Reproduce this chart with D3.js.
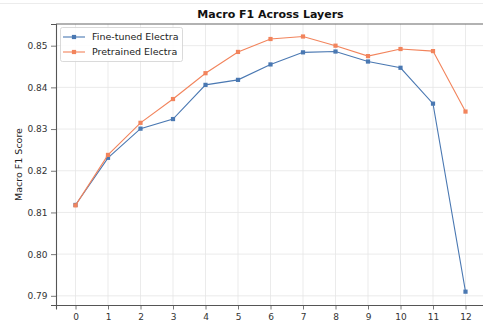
<!DOCTYPE html>
<html>
<head>
<meta charset="utf-8">
<script src="https://cdn.jsdelivr.net/npm/d3@7"></script>
<style>
  html, body { margin: 0; padding: 0; background: #fff; }
  svg { display: block; font-family: "DejaVu Sans", sans-serif; }
</style>
</head>
<body>
<svg id="chart" width="483" height="325"></svg>
<script>
// Layer indices and per-layer macro F1 for the two probed models
const layers = [0, 1, 2, 3, 4, 5, 6, 7, 8, 9, 10, 11, 12];
const fineTuned = [0.8118, 0.8231, 0.8301, 0.8324, 0.8406, 0.8418, 0.8455, 0.8484, 0.8486, 0.8462, 0.8447, 0.8361, 0.7910];
const pretrained = [0.8117, 0.8238, 0.8315, 0.8372, 0.8434, 0.8485, 0.8516, 0.8522, 0.8500, 0.8475, 0.8492, 0.8487, 0.8342];
const seriesNames = ["Fine-tuned Electra", "Pretrained Electra"];
const yTicks = [0.79, 0.80, 0.81, 0.82, 0.83, 0.84, 0.85];

const colors = ["#4a78b2", "#f2845c"];
const series = [fineTuned, pretrained];

const svg = d3.select("#chart");
const plotLeft = 56, plotTop = 24, plotRight = 485, plotBottom = 305;

const x = d3.scaleLinear().domain([-0.6, 12.6]).range([plotLeft, plotRight]);
const y = d3.scaleLinear().domain([0.7878, 0.8552]).range([plotBottom, plotTop]);

// faint frame line along the top of the figure
svg.append("line").attr("x1", 0).attr("x2", 483).attr("y1", 3.5).attr("y2", 3.5)
  .attr("stroke", "#ececec").attr("stroke-width", 1);

// grid
const grid = svg.append("g");
grid.selectAll("line.gx").data(layers).join("line")
  .attr("x1", d => x(d)).attr("x2", d => x(d))
  .attr("y1", plotTop).attr("y2", plotBottom)
  .attr("stroke", "#e6e6e6").attr("stroke-width", 0.8);
grid.selectAll("line.gy").data(yTicks).join("line")
  .attr("x1", plotLeft).attr("x2", plotRight)
  .attr("y1", d => y(d)).attr("y2", d => y(d))
  .attr("stroke", "#e6e6e6").attr("stroke-width", 0.8);

// axes
const xAxis = d3.axisBottom(x).tickValues(layers).tickFormat(d3.format("d")).tickSizeOuter(0).tickSize(4.5).tickPadding(4);
const yAxis = d3.axisLeft(y).tickValues(yTicks).tickFormat(d3.format(".2f")).tickSizeOuter(0).tickSize(5).tickPadding(3.5);

const gx = svg.append("g").attr("transform", `translate(0,${plotBottom})`).call(xAxis);
const gy = svg.append("g").attr("transform", `translate(${plotLeft},0)`).call(yAxis);
[gx, gy].forEach(g => {
  g.select(".domain").attr("stroke", "#555").attr("stroke-width", 1.1);
  g.selectAll(".tick line").attr("stroke", "#555").attr("stroke-width", 0.8);
  g.selectAll(".tick text").attr("fill", "#333").style("font-size", "9px")
    .style("font-family", "DejaVu Sans, sans-serif");
});

// top spine
svg.append("line").attr("x1", plotLeft).attr("x2", plotRight).attr("y1", plotTop).attr("y2", plotTop)
  .attr("stroke", "#666").attr("stroke-width", 1.1);

// lines and markers
const line = d3.line().x((d, i) => x(layers[i])).y(d => y(d));
series.forEach((vals, k) => {
  svg.append("path").datum(vals)
    .attr("d", line).attr("fill", "none")
    .attr("stroke", colors[k]).attr("stroke-width", 1.1);
  svg.append("g").selectAll("rect").data(vals).join("rect")
    .attr("x", (d, i) => x(layers[i]) - 2.1).attr("y", d => y(d) - 2.1)
    .attr("width", 4.2).attr("height", 4.2)
    .attr("fill", colors[k]);
});

// title
svg.append("text").attr("x", (plotLeft + plotRight) / 2).attr("y", 18)
  .attr("text-anchor", "middle").attr("font-weight", "bold")
  .style("font-size", "11px").attr("fill", "#111")
  .text("Macro F1 Across Layers");

// y label
svg.append("text")
  .attr("transform", `translate(22,${(plotTop + plotBottom) / 2}) rotate(-90)`)
  .attr("text-anchor", "middle").style("font-size", "9.5px").attr("fill", "#222")
  .text("Macro F1 Score");

// legend
const lg = svg.append("g");
lg.append("rect").attr("x", 60.5).attr("y", 27.5).attr("width", 122).attr("height", 34)
  .attr("rx", 2).attr("fill", "#fff").attr("fill-opacity", 0.85)
  .attr("stroke", "#d0d0d0").attr("stroke-width", 0.8);
seriesNames.forEach((name, k) => {
  const yy = 37 + k * 15;
  lg.append("line").attr("x1", 63).attr("x2", 85).attr("y1", yy).attr("y2", yy)
    .attr("stroke", colors[k]).attr("stroke-width", 1.1);
  lg.append("rect").attr("x", 74 - 2.1).attr("y", yy - 2.1).attr("width", 4.2).attr("height", 4.2)
    .attr("fill", colors[k]);
  lg.append("text").attr("x", 92).attr("y", yy + 3.4)
    .style("font-size", "9.5px").attr("fill", "#222").text(name);
});
</script>
</body>
</html>
